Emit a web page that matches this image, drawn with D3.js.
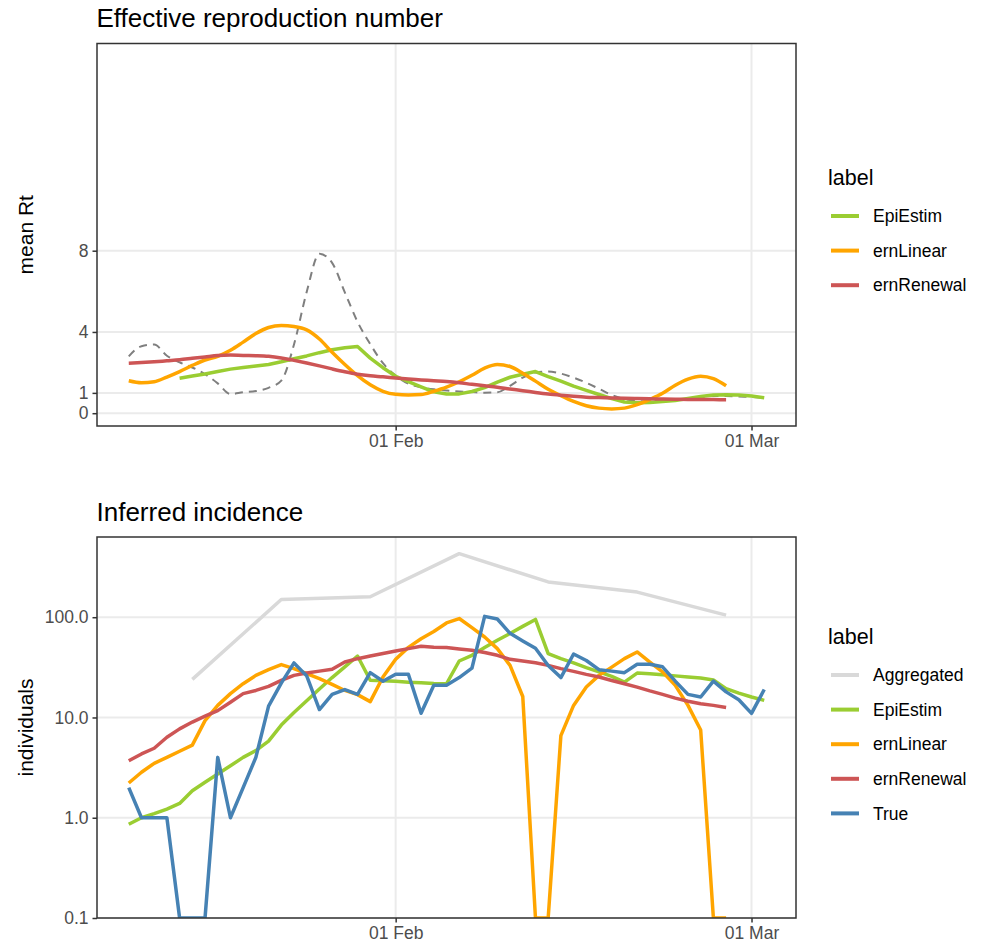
<!DOCTYPE html>
<meta charset="utf-8">
<style>
body { margin: 0; background: #fff; }
text { font-family: "Liberation Sans", Arial, Helvetica, sans-serif; }
.grid line { stroke: #ebebeb; stroke-width: 2px; }
.border { fill: none; stroke: #333333; stroke-width: 1.5px; }
.axis path { display: none; }
.axis line { stroke: #333333; stroke-width: 1.5px; }
.axis text { fill: #4d4d4d; font-size: 17.5px; }
.title { font-size: 26px; fill: #000; }
.ytitle { font-size: 21px; fill: #000; }
.legend-title { font-size: 21.5px; fill: #000; }
.legend-text { font-size: 17.5px; fill: #000; }
</style>
<body>

<script src="https://cdn.jsdelivr.net/npm/d3@7"></script>
<script>

// ---- data ----
// daily series; each starts at its own first day
var rtTrueStart = "2021-01-11";
var rtTrue = [2.8, 3.3, 3.38, 2.83, 2.5, 2.25, 1.92, 1.47, 0.94, 1.03,
  1.09, 1.25, 1.6, 3.38, 5.97, 7.85, 7.4, 5.95, 4.5, 3.4,
  2.46, 1.85, 1.45, 1.28, 1.18, 1.12, 1.07, 1.04, 1.01, 1.03,
  1.35, 1.75, 2.0, 2.05, 1.95, 1.75, 1.5, 1.2, 0.9, 0.7,
  0.6, 0.58, 0.6, 0.63, 0.7, 0.78, 0.85, 0.85, 0.82, 0.8, 0.76];

var rtEpiStart = "2021-01-15";
var rtEpi = [1.72, 1.83, 1.93, 2.05, 2.17, 2.25, 2.32, 2.4, 2.53, 2.68,
  2.82, 2.98, 3.12, 3.22, 3.28, 2.71, 2.24, 1.82, 1.55, 1.3,
  1.05, 0.95, 0.95, 1.07, 1.26, 1.53, 1.77, 1.92, 2.05, 1.8,
  1.58, 1.33, 1.12, 0.92, 0.72, 0.55, 0.52, 0.53, 0.58, 0.63,
  0.72, 0.82, 0.9, 0.91, 0.9, 0.85, 0.76];

var rtLinearStart = "2021-01-11";
var rtLinear = [1.6, 1.5, 1.55, 1.78, 2.05, 2.35, 2.62, 2.8, 3.1, 3.5,
  3.92, 4.22, 4.32, 4.27, 4.1, 3.65, 3.0, 2.4, 1.85, 1.4,
  1.08, 0.93, 0.9, 0.92, 1.08, 1.28, 1.55, 1.87, 2.22, 2.4,
  2.3, 1.97, 1.58, 1.18, 0.86, 0.58, 0.37, 0.25, 0.21, 0.25,
  0.42, 0.68, 0.98, 1.38, 1.68, 1.82, 1.7, 1.35];

var rtRenewalStart = "2021-01-11";
var rtRenewal = [2.46, 2.49, 2.53, 2.58, 2.63, 2.7, 2.77, 2.84, 2.86, 2.84,
  2.83, 2.8, 2.72, 2.6, 2.47, 2.33, 2.18, 2.04, 1.92, 1.84,
  1.79, 1.73, 1.68, 1.64, 1.6, 1.56, 1.5, 1.42, 1.35, 1.28,
  1.19, 1.11, 1.02, 0.94, 0.88, 0.83, 0.79, 0.77, 0.75, 0.73,
  0.72, 0.71, 0.7, 0.69, 0.68, 0.68, 0.67, 0.66];

var aggDates = ["2021-01-16", "2021-01-23", "2021-01-30", "2021-02-06",
  "2021-02-13", "2021-02-20", "2021-02-27"];
var incAgg = [24, 150, 160, 430, 225, 178, 105];

var incEpiStart = "2021-01-11";
var incEpi = [0.86, 1.0, 1.1, 1.22, 1.39, 1.86, 2.26, 2.73, 3.3, 4.0,
  4.68, 5.8, 8.4, 11.2, 14.7, 19.2, 25, 32, 41, 23.5,
  23.2, 23, 22.5, 22.2, 21.8, 21.7, 36.6, 41.7, 49.8, 58.9,
  68.7, 81, 95, 43.4, 38.6, 35, 31.4, 28.5, 25.7, 22.5,
  27.7, 27.3, 26.7, 26, 25.3, 24.7, 23.7, 19.4, 17.5, 16, 14.8];

var incLinearStart = "2021-01-11";
var incLinear = [2.22, 2.84, 3.49, 4.0, 4.6, 5.3, 9.3, 13.2, 17.3, 21.7,
  26.3, 30, 33.7, 30.7, 27.3, 24.4, 21.4, 18.6, 16.9, 14.4,
  25.3, 38, 50, 61, 72, 87.7, 97, 78.8, 63.5, 48.6,
  33.1, 16.2, 0, 0, 6.6, 13.2, 20.1, 26.3, 31.8, 38.6,
  45, 35.7, 28.5, 20.9, 13.2, 7.5, 0, 0];

var incRenewalStart = "2021-01-11";
var incRenewal = [3.7, 4.33, 4.93, 6.35, 7.7, 9.0, 10.3, 11.7, 14.2, 17.3,
  18.6, 20.4, 23.4, 26.3, 27.8, 29, 30.2, 35.7, 38.6, 41,
  43.4, 46, 48.6, 51.3, 50.1, 49.8, 48.3, 46.8, 44.4, 41.7,
  38, 36.6, 35.2, 33.1, 30.7, 28.8, 26.9, 25.3, 23.4, 21.7,
  20.1, 18.4, 17, 15.6, 14.5, 13.7, 13.2, 12.6];

var incTrueStart = "2021-01-11";
var incTrue = [2, 1, 1, 1, 0, 0, 0, 4, 1, 2,
  4, 13, 22, 35, 26, 12, 17, 19, 17, 28,
  23, 27, 27, 11, 21, 21, 25, 31, 102, 96,
  69, 58, 49, 33, 25, 43, 37, 30, 29, 28,
  34, 34, 32, 23, 17, 16, 23, 18, 15, 11, 19];

var xTicks = ["2021-02-01", "2021-03-01"];
var rtTicks = [0, 1, 4, 8];
var incTicks = [0.1, 1, 10, 100];

var colors = {
  Aggregated: "#d9d9d9",
  EpiEstim: "#9acd32",
  ernLinear: "#ffa500",
  ernRenewal: "#cd5555",
  True: "#4682b4"
};

// ---- helpers ----
var parse = d3.utcParse("%Y-%m-%d");

function daily(start, values) {
  var t0 = parse(start);
  return values.map(function(v, i) { return {date: d3.utcDay.offset(t0, i), value: v}; });
}

// ---- layout ----
var W = 989, H = 947;
var left = 97, right = 796;
var top1 = 43.5, bottom1 = 426;
var top2 = 537, bottom2 = 918;

var svg = d3.select("body").append("svg")
    .attr("width", W)
    .attr("height", H);

var firstDay = parse("2021-01-11"), lastDay = parse("2021-03-02");
var x = d3.scaleUtc()
    .domain([d3.utcHour.offset(firstDay, -60), d3.utcHour.offset(lastDay, 60)])
    .range([left, right]);

var yRt = d3.scaleLinear().domain([-0.63, 18.2]).range([bottom1, top1]);
var yInc = d3.scaleLog().domain([0.1, 631]).range([bottom2, top2]);

function panel(top, bottom, y, yTicks, yFmt, title, ytitle, id) {
  var g = svg.append("g");

  // grid
  var grid = g.append("g").attr("class", "grid");
  grid.selectAll(".gy").data(yTicks).enter().append("line")
      .attr("x1", left).attr("x2", right)
      .attr("y1", function(d) { return y(d); })
      .attr("y2", function(d) { return y(d); });
  grid.selectAll(".gx").data(xTicks.map(parse)).enter().append("line")
      .attr("y1", top).attr("y2", bottom)
      .attr("x1", function(d) { return x(d); })
      .attr("x2", function(d) { return x(d); });

  svg.append("clipPath").attr("id", id)
    .append("rect")
      .attr("x", left).attr("y", top)
      .attr("width", right - left).attr("height", bottom - top);

  var plot = g.append("g").attr("clip-path", "url(#" + id + ")");

  // axes
  g.append("g")
      .attr("class", "axis")
      .attr("transform", "translate(" + left + ",0)")
      .call(d3.axisLeft(y).tickValues(yTicks).tickFormat(yFmt).tickSize(4.5).tickPadding(4));
  g.append("g")
      .attr("class", "axis")
      .attr("transform", "translate(0," + bottom + ")")
      .call(d3.axisBottom(x).tickValues(xTicks.map(parse))
            .tickFormat(d3.utcFormat("%d %b")).tickSize(4.5).tickPadding(4));

  g.append("text")
      .attr("class", "title")
      .attr("x", left - 0.5)
      .attr("y", top - 16.5)
      .text(title);

  g.append("text")
      .attr("class", "ytitle")
      .attr("text-anchor", "middle")
      .attr("transform", "translate(33," + ((top + bottom) / 2) + ") rotate(-90)")
      .text(ytitle);

  return {g: g, plot: plot, border: function() {
    g.append("rect")
        .attr("class", "border")
        .attr("x", left).attr("y", top)
        .attr("width", right - left).attr("height", bottom - top);
  }};
}

function legend(titleY, keys) {
  var lg = svg.append("g");
  lg.append("text")
      .attr("class", "legend-title")
      .attr("x", 828)
      .attr("y", titleY)
      .text("label");
  var item = lg.selectAll(".item").data(keys).enter().append("g")
      .attr("transform", function(d, i) { return "translate(0," + (titleY + 31 + i * 34.6) + ")"; });
  item.append("line")
      .attr("x1", 831).attr("x2", 859)
      .attr("stroke", function(d) { return colors[d]; })
      .attr("stroke-width", 4);
  item.append("text")
      .attr("class", "legend-text")
      .attr("x", 873)
      .attr("dy", "0.35em")
      .text(function(d) { return d; });
}

// ---- top panel: effective reproduction number ----
var p1 = panel(top1, bottom1, yRt, rtTicks, d3.format("d"),
               "Effective reproduction number", "mean Rt", "clip1");

var smoothRt = d3.line().curve(d3.curveMonotoneX)
    .x(function(d) { return x(d.date); })
    .y(function(d) { return yRt(d.value); });
var straightRt = d3.line()
    .x(function(d) { return x(d.date); })
    .y(function(d) { return yRt(d.value); });

p1.plot.append("path")
    .attr("d", smoothRt(daily(rtTrueStart, rtTrue)))
    .attr("fill", "none")
    .attr("stroke", "#7f7f7f")
    .attr("stroke-width", 2)
    .attr("stroke-dasharray", "8,6");

p1.plot.append("path")
    .attr("d", straightRt(daily(rtEpiStart, rtEpi)))
    .attr("fill", "none")
    .attr("stroke", colors.EpiEstim)
    .attr("stroke-width", 3.5)
    .attr("stroke-linejoin", "round");

p1.plot.append("path")
    .attr("d", smoothRt(daily(rtLinearStart, rtLinear)))
    .attr("fill", "none")
    .attr("stroke", colors.ernLinear)
    .attr("stroke-width", 3.5);

p1.plot.append("path")
    .attr("d", smoothRt(daily(rtRenewalStart, rtRenewal)))
    .attr("fill", "none")
    .attr("stroke", colors.ernRenewal)
    .attr("stroke-width", 3.5);

p1.border();
legend(185, ["EpiEstim", "ernLinear", "ernRenewal"]);

// ---- bottom panel: inferred incidence ----
var p2 = panel(top2, bottom2, yInc, incTicks, d3.format(".1f"),
               "Inferred incidence", "individuals", "clip2");

// zero counts sit on the lower edge of the panel (log scale)
var lineInc = d3.line()
    .x(function(d) { return x(d.date); })
    .y(function(d) { return d.value > 0 ? yInc(d.value) : bottom2; });

var aggData = aggDates.map(function(d, i) { return {date: parse(d), value: incAgg[i]}; });

var incSeries = [
  {key: "Aggregated", data: aggData},
  {key: "EpiEstim", data: daily(incEpiStart, incEpi)},
  {key: "ernLinear", data: daily(incLinearStart, incLinear)},
  {key: "ernRenewal", data: daily(incRenewalStart, incRenewal)},
  {key: "True", data: daily(incTrueStart, incTrue)}
];

p2.plot.selectAll(".inc").data(incSeries).enter().append("path")
    .attr("class", "inc")
    .attr("d", function(s) { return lineInc(s.data); })
    .attr("fill", "none")
    .attr("stroke", function(s) { return colors[s.key]; })
    .attr("stroke-width", 3.5)
    .attr("stroke-linejoin", "round");

p2.border();
legend(644, ["Aggregated", "EpiEstim", "ernLinear", "ernRenewal", "True"]);

</script>
</body>
